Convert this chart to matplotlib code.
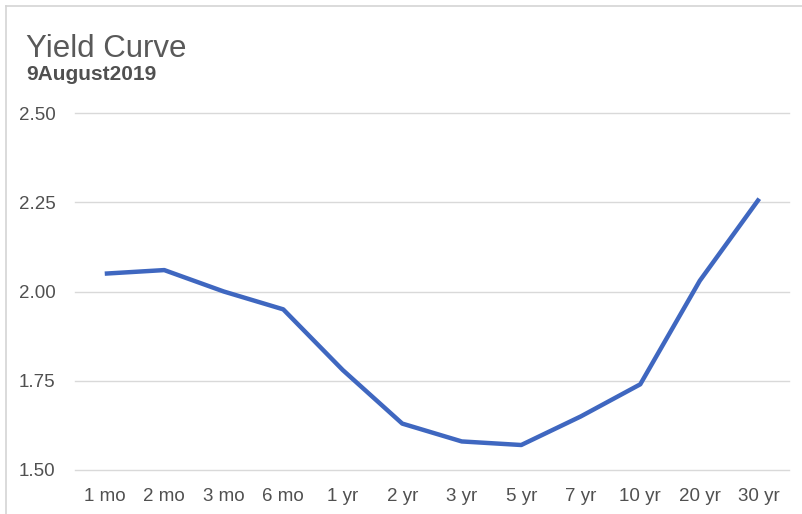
import matplotlib
matplotlib.use("Agg")
import matplotlib.pyplot as plt
from matplotlib.lines import Line2D

# Treasury yields, 9 August 2019
maturities = ["1 mo", "2 mo", "3 mo", "6 mo", "1 yr", "2 yr", "3 yr",
              "5 yr", "7 yr", "10 yr", "20 yr", "30 yr"]
yields = [2.05, 2.06, 2.00, 1.95, 1.78, 1.63, 1.58, 1.57, 1.65, 1.74, 2.03, 2.26]
y_ticks = [1.50, 1.75, 2.00, 2.25, 2.50]

plt.rcParams['font.family'] = ['Liberation Sans', 'DejaVu Sans']

W, H = 802, 514
fig = plt.figure(figsize=(W / 100, H / 100), dpi=100)
ax = fig.add_axes([75 / W, 44 / H, (789 - 75) / W, (470 - 113) / H])

x = list(range(len(maturities)))
ax.plot(x, yields, color='#3f67c0', lw=3.2, solid_joinstyle='round',
        solid_capstyle='butt', zorder=3)

ax.set_xlim(-0.5, len(maturities) - 0.5)
ax.set_ylim(1.5, 2.5)
ax.set_yticks(y_ticks)
ax.set_yticklabels([f"{v:.2f}" for v in y_ticks])
ax.set_xticks(x)
ax.set_xticklabels(maturities)

ax.grid(axis='y', color='#d9d9d9', lw=1.0)
for gl in ax.get_ygridlines():
    gl.set_clip_on(False)
ax.set_axisbelow(True)
for s in ax.spines.values():
    s.set_visible(False)
ax.tick_params(axis='both', length=0, labelsize=13.5, labelcolor='#505050')
ax.tick_params(axis='y', pad=14)
ax.tick_params(axis='x', pad=13)

fig.text(26 / W, 1 - 57 / H, "Yield Curve", fontsize=22.5, color='#595959',
         ha='left', va='baseline')
fig.text(26 / W, 1 - 80 / H, "9August2019", fontsize=15, color='#505050',
         fontweight='bold', ha='left', va='baseline')

# light frame on the top and left edges
fig.add_artist(Line2D([6 / W, 1], [1 - 6 / H, 1 - 6 / H], color='#d4d4d4', lw=1.2))
fig.add_artist(Line2D([6 / W, 6 / W], [0, 1 - 6 / H], color='#d4d4d4', lw=1.2))

fig.savefig("out.png", dpi=100)
